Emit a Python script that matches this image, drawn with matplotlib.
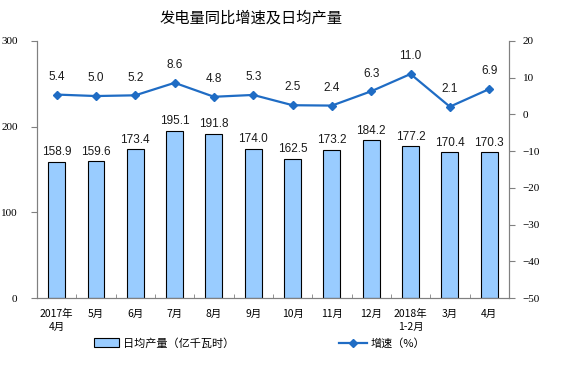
import matplotlib.pyplot as plt
import numpy as np
from matplotlib.lines import Line2D
from matplotlib.patches import Patch

plt.rcParams["font.family"] = ["Noto Sans CJK SC", "DejaVu Sans"]

categories = ["2017年\n4月", "5月", "6月", "7月", "8月", "9月", "10月", "11月", "12月",
              "2018年\n1-2月", "3月", "4月"]
output = [158.9, 159.6, 173.4, 195.1, 191.8, 174.0, 162.5, 173.2, 184.2, 177.2, 170.4, 170.3]
growth = [5.4, 5.0, 5.2, 8.6, 4.8, 5.3, 2.5, 2.4, 6.3, 11.0, 2.1, 6.9]

BAR = "#99CCFF"
LINE = "#1F6CC4"
GREY = "#808080"

fig = plt.figure(figsize=(5.66, 3.69), dpi=100)
ax = fig.add_axes([0.0654, 0.1924, 0.8336, 0.6966])
x = np.arange(len(categories))
ax.bar(x, output, width=0.43, color=BAR, edgecolor="black", linewidth=0.8, zorder=2)
for xi, v in zip(x, output):
    ax.text(xi, v + 4, f"{v:.1f}", ha="center", va="bottom", fontsize=8.5,
            family="Liberation Sans", color="#1a1a1a")
ax.set_xlim(-0.5, len(categories) - 0.5)
ax.set_ylim(0, 300)
ax.set_yticks([0, 100, 200, 300])
ax.set_xticks(x)
ax.set_xticklabels(categories, fontsize=7.5, linespacing=1.4)
ax.tick_params(axis="x", length=0, pad=8)
ax.set_xticks(np.arange(-0.5, len(categories)), minor=True)
ax.tick_params(axis="x", which="minor", length=3, color=GREY, direction="in")
ax.tick_params(axis="y", length=4, color=GREY, labelsize=8, pad=10)
for lab in ax.get_yticklabels():
    lab.set_family("Liberation Serif")
ax.spines["top"].set_visible(False)
for s in ("left", "right", "bottom"):
    ax.spines[s].set_color(GREY)

ax2 = ax.twinx()
ax2.plot(x, growth, color=LINE, lw=1.6, marker="D", ms=4, zorder=3)
for xi, v in zip(x, growth):
    ax2.text(xi, v + 3.2, f"{v:.1f}", ha="center", va="bottom", fontsize=8.5,
             family="Liberation Sans", color="#1a1a1a")
ax2.set_ylim(-50, 20)
ax2.set_yticks(range(-50, 21, 10))
ax2.tick_params(axis="y", length=4, color=GREY, labelsize=8, pad=6)
for lab in ax2.get_yticklabels():
    lab.set_family("Liberation Serif")
ax2.spines["top"].set_visible(False)
for s in ("left", "right", "bottom"):
    ax2.spines[s].set_color(GREY)

fig.text(0.444, 0.95, "发电量同比增速及日均产量", ha="center", va="center", fontsize=11)

handles = [Patch(facecolor=BAR, edgecolor="black", linewidth=0.8),
           Line2D([], [], color=LINE, lw=1.6, marker="D", ms=4)]
fig.legend(handles[:1], ["日均产量（亿千瓦时）"], loc="center", bbox_to_anchor=(0.29, 0.07),
           frameon=False, fontsize=8, handlelength=2.2, handleheight=0.9, handletextpad=0.4)
fig.legend(handles[1:], ["增速（%）"], loc="center", bbox_to_anchor=(0.675, 0.07),
           frameon=False, fontsize=8, handlelength=2.5, handletextpad=0.3)

fig.savefig("out.png", dpi=100)
